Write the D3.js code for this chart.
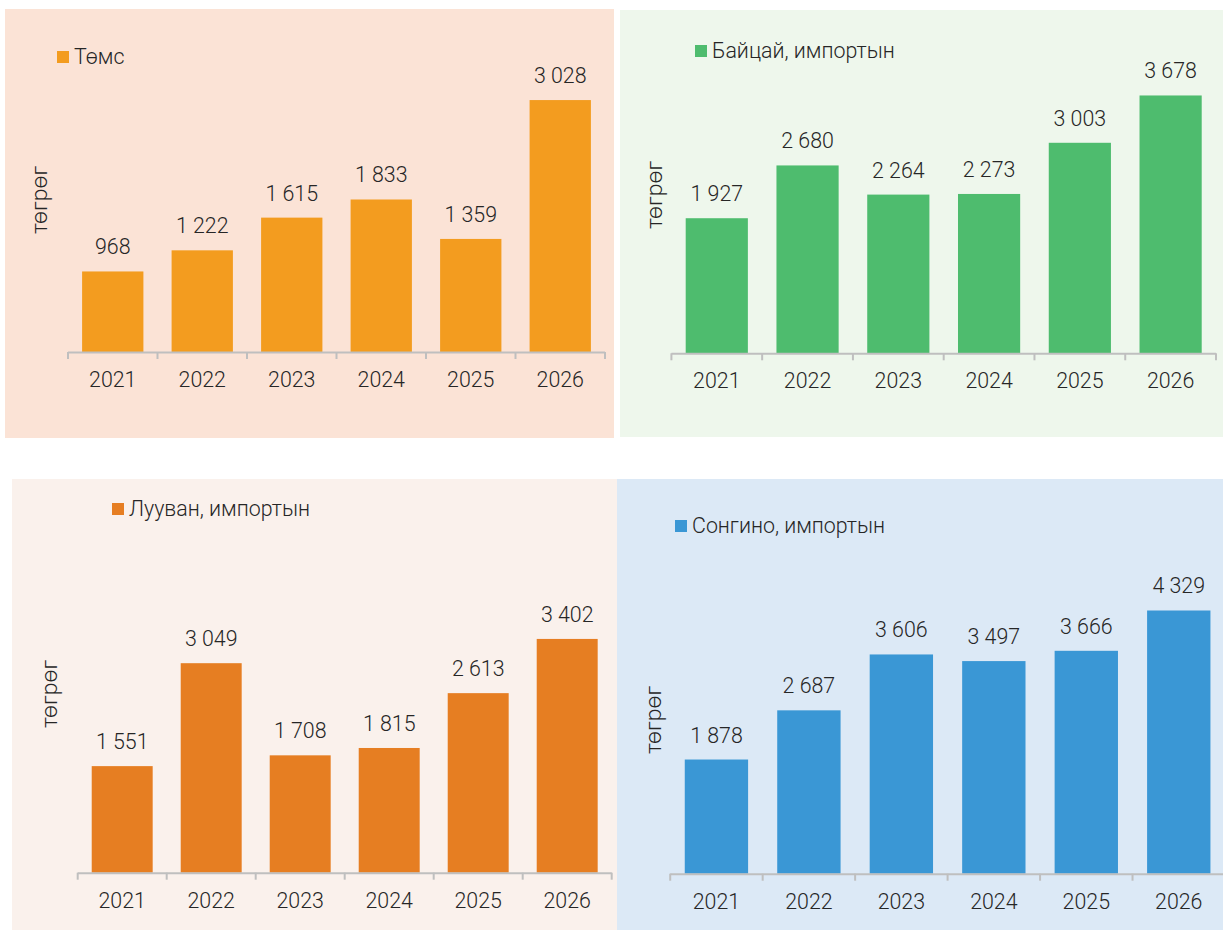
<!DOCTYPE html>
<html>
<head>
<meta charset="utf-8">
<script src="https://cdn.jsdelivr.net/npm/d3@7"></script>
<style>
  html, body { margin: 0; padding: 0; background: #ffffff; }
  svg { display: block; }
  text { font-family: Roboto, "Noto Sans", sans-serif; font-weight: 300; fill: #262626; }
</style>
</head>
<body>
<svg id="chart" width="1223" height="930"></svg>
<script>
// ---- data ----
const years = ["2021", "2022", "2023", "2024", "2025", "2026"];
const tomsValues = [968, 1222, 1615, 1833, 1359, 3028];
const baitsaiValues = [1927, 2680, 2264, 2273, 3003, 3678];
const luuvanValues = [1551, 3049, 1708, 1815, 2613, 3402];
const songinoValues = [1878, 2687, 3606, 3497, 3666, 4329];
const seriesNames = ["Төмс", "Байцай, импортын", "Лууван, импортын", "Сонгино, импортын"];
const yAxisTitle = "төгрөг";

// ---- layout ----
const panels = [
  { name: seriesNames[0], values: tomsValues, bg: "#FBE3D6", color: "#F39C1F",
    box: [5, 9, 609, 429], x0: 68, x1: 605, axisY: 352, yMax: 3500, yTop: 60.8,
    legend: [57, 51], yTitle: [47, 200] },
  { name: seriesNames[1], values: baitsaiValues, bg: "#EEF7EC", color: "#4EBC6E",
    box: [620, 10, 603, 427], x0: 671.4, x1: 1216, axisY: 353.3, yMax: 4000, yTop: 72.9,
    legend: [695, 45], yTitle: [662, 195] },
  { name: seriesNames[2], values: luuvanValues, bg: "#FAF1EC", color: "#E67E22",
    box: [12, 479, 605, 451], x0: 77.7, x1: 611.7, axisY: 872.7, yMax: 3500, yTop: 632.2,
    legend: [112, 503], yTitle: [57, 694] },
  { name: seriesNames[3], values: songinoValues, bg: "#DCE9F6", color: "#3A97D5",
    box: [617, 479, 606, 451], x0: 670.2, x1: 1225, axisY: 873.7, yMax: 5000, yTop: 569.7,
    legend: [675, 520], yTitle: [661, 720] }
];

const svg = d3.select("#chart");
const SX = 0.93;       // horizontal squeeze of the original typography
const FS = 23;         // font size
const fmt = d3.formatLocale({ decimal: ",", thousands: " ", grouping: [3], currency: ["", ""] }).format(",d");

function txt(g, x, y, s, anchor, rotate) {
  return g.append("text")
    .attr("transform", `translate(${x},${y}) scale(${SX},1)` + (rotate ? ` rotate(${rotate})` : ""))
    .attr("text-anchor", anchor || "start")
    .style("font-size", FS + "px")
    .text(s);
}

panels.forEach(p => {
  const g = svg.append("g");
  const [bx, by, bw, bh] = p.box;
  g.append("rect").attr("x", bx).attr("y", by).attr("width", bw).attr("height", bh).attr("fill", p.bg);

  const x = d3.scaleBand().domain(years).range([p.x0, p.x1]).paddingInner(0.315).paddingOuter(0.1575);
  const y = d3.scaleLinear().domain([0, p.yMax]).range([p.axisY, p.yTop]);
  const data = years.map((yr, i) => ({ year: yr, value: p.values[i] }));

  // bars
  g.selectAll("rect.bar").data(data).enter().append("rect")
    .attr("class", "bar")
    .attr("x", d => x(d.year))
    .attr("width", x.bandwidth())
    .attr("y", d => y(d.value))
    .attr("height", d => y(0) - y(d.value))
    .attr("fill", p.color);

  // value labels
  data.forEach(d => {
    txt(g, x(d.year) + x.bandwidth() / 2, y(d.value) - 17, fmt(d.value), "middle");
  });

  // axis line + boundary ticks
  const step = x.step();
  const r0 = x.range()[0];
  g.append("line").attr("x1", r0).attr("x2", x.range()[1])
    .attr("y1", p.axisY + 0.5).attr("y2", p.axisY + 0.5)
    .attr("stroke", "#BFBFBF").attr("stroke-width", 2);
  d3.range(years.length + 1).forEach(i => {
    const tx = r0 + i * step;
    g.append("line").attr("x1", tx).attr("x2", tx)
      .attr("y1", p.axisY).attr("y2", p.axisY + 7)
      .attr("stroke", "#BFBFBF").attr("stroke-width", 2);
  });

  // year labels
  years.forEach(yr => {
    txt(g, x(yr) + x.bandwidth() / 2, p.axisY + 35, yr, "middle");
  });

  // legend
  const [lx, ly] = p.legend;
  g.append("rect").attr("x", lx).attr("y", ly).attr("width", 12).attr("height", 12).attr("fill", p.color);
  txt(g, lx + 17, ly + 12.5, p.name, "start");

  // y axis title
  txt(g, p.yTitle[0], p.yTitle[1], yAxisTitle, "middle", -90);
});
</script>
</body>
</html>
